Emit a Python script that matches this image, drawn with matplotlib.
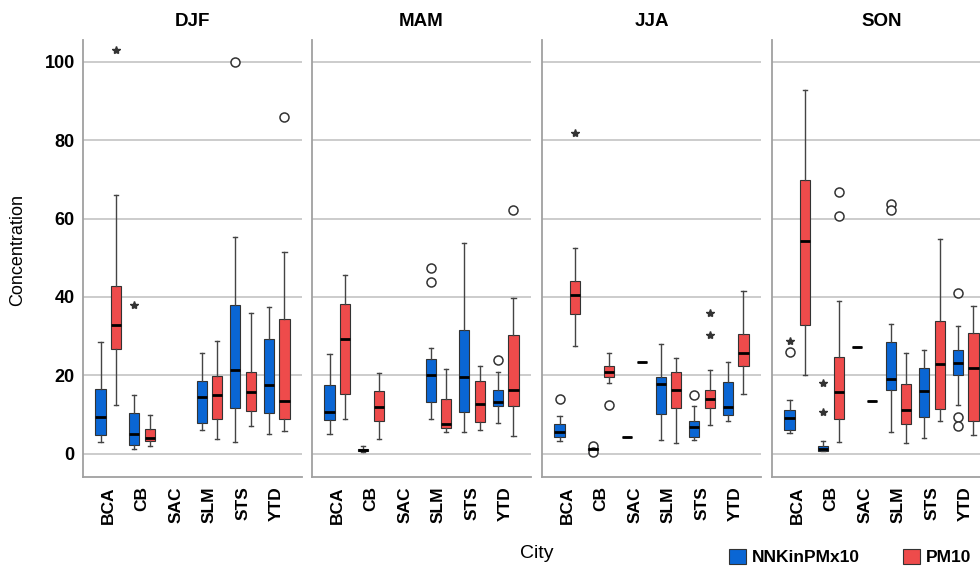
import matplotlib.pyplot as plt
from matplotlib.patches import Patch

plt.rcParams['font.family'] = ['Liberation Sans', 'DejaVu Sans']

seasons = ['DJF', 'MAM', 'JJA', 'SON']
cities = ['BCA', 'CB', 'SAC', 'SLM', 'STS', 'YTD']
series = ['NNKinPMx10', 'PM10']
colors = ['#0a66d4', '#ee4b4b']

# box stats, rows = season, cols = city (None = no data)
# NNKinPMx10
nnk_lo = [[3.1, 1.3, None, 6.0, 3.1, 5.1],
          [5.1, 0.6, None, 8.8, 5.5, 8.0],
          [3.3, 0.9, 4.4, 3.6, 3.6, 8.4],
          [5.4, 0.8, 27.3, 5.7, 4.0, 12.4]]
nnk_q1 = [[4.8, 2.3, None, 8.0, 11.6, 10.5],
          [8.7, 0.7, None, 13.3, 10.7, 12.3],
          [4.2, 1.0, 4.4, 10.3, 4.2, 9.9],
          [6.0, 0.8, 27.3, 16.2, 9.3, 20.0]]
nnk_med = [[9.3, 5.2, None, 14.5, 21.5, 17.5],
           [10.7, 0.9, None, 20.0, 19.6, 13.3],
           [5.5, 1.2, 4.4, 17.8, 6.8, 11.9],
           [9.2, 1.3, 27.3, 19.1, 16.0, 23.2]]
nnk_q3 = [[16.6, 10.5, None, 18.6, 37.9, 29.3],
          [17.6, 1.3, None, 24.2, 31.5, 16.2],
          [7.6, 1.4, 4.4, 19.7, 8.4, 18.3],
          [11.2, 2.0, 27.3, 28.5, 22.0, 26.5]]
nnk_hi = [[28.5, 15.0, None, 25.6, 55.3, 37.4],
          [25.4, 2.1, None, 27.0, 53.8, 20.8],
          [9.6, 1.6, 4.4, 28.0, 12.2, 23.5],
          [13.8, 3.3, 27.3, 33.0, 26.5, 32.7]]
nnk_out = [[[], [], [], [], [99.9], []],
           [[], [], [], [47.3, 43.8], [], [23.9]],
           [[13.9], [2.1, 0.5], [], [], [15.0], []],
           [[25.9], [], [], [63.8, 62.2], [], [41.1, 9.4, 7.2]]]
nnk_ext = [[[], [38.0], [], [], [], []],
           [[], [], [], [], [], []],
           [[], [], [], [], [], []],
           [[28.7], [18.0, 10.8], [], [], [], []]]

# PM10
pm_lo = [[12.4, 2.1, None, 3.7, 7.0, 5.8],
         [9.0, 3.7, None, 5.7, 6.0, 4.7],
         [27.5, 18.1, 23.4, 2.7, 7.3, 15.4],
         [20.2, 3.0, 13.5, 2.8, 8.4, 4.8]]
pm_q1 = [[26.8, 3.3, None, 8.8, 11.0, 9.0],
         [15.2, 8.3, None, 6.5, 8.2, 12.3],
         [35.6, 19.5, 23.4, 11.6, 11.8, 22.3],
         [32.9, 8.8, 13.5, 7.7, 11.4, 8.4]]
pm_med = [[32.8, 4.0, None, 15.0, 15.8, 13.4],
          [29.3, 12.0, None, 7.7, 12.8, 16.4],
          [40.4, 20.8, 23.4, 16.2, 14.1, 25.8],
          [54.3, 15.9, 13.5, 11.2, 22.9, 22.0]]
pm_q3 = [[42.9, 6.4, None, 19.8, 21.0, 34.4],
         [38.2, 16.1, None, 14.0, 18.6, 30.2],
         [44.0, 22.4, 23.4, 20.8, 16.4, 30.5],
         [69.7, 24.8, 13.5, 17.9, 34.0, 30.8]]
pm_hi = [[66.0, 9.9, None, 28.8, 36.0, 51.4],
         [45.7, 20.7, None, 21.7, 22.5, 39.8],
         [52.4, 25.6, 23.4, 24.4, 21.3, 41.5],
         [92.8, 39.0, 13.5, 25.6, 54.8, 37.8]]
pm_out = [[[], [], [], [], [], [86.0]],
          [[], [], [], [], [], [62.2]],
          [[], [12.4], [], [], [], []],
          [[], [66.7, 60.7], [], [], [], []]]
pm_ext = [[[102.9], [], [], [], [], []],
          [[], [], [], [], [], []],
          [[81.7], [], [], [], [36.0, 30.2], []],
          [[], [], [], [], [], []]]

stats_by_series = [
    (nnk_lo, nnk_q1, nnk_med, nnk_q3, nnk_hi, nnk_out, nnk_ext),
    (pm_lo, pm_q1, pm_med, pm_q3, pm_hi, pm_out, pm_ext),
]
offsets = [-0.23, 0.23]

W, H = 980, 570
fig = plt.figure(figsize=(W / 100, H / 100), dpi=100)

lefts = [83, 312, 542, 772]
ax_w, ax_top, ax_bot = 219, 40, 476.7

for si, season in enumerate(seasons):
    ax = fig.add_axes([lefts[si] / W, 1 - ax_bot / H, ax_w / W, (ax_bot - ax_top) / H])
    for k in range(2):
        lo, q1, med, q3, hi, out, ext = stats_by_series[k]
        for ci in range(len(cities)):
            if med[si][ci] is None:
                continue
            pos = ci + offsets[k]
            st = dict(med=med[si][ci], q1=q1[si][ci], q3=q3[si][ci],
                      whislo=lo[si][ci], whishi=hi[si][ci], fliers=[])
            ax.bxp([st], positions=[pos], widths=0.3, patch_artist=True,
                   showfliers=False, manage_ticks=False, capwidths=0.12,
                   boxprops=dict(facecolor=colors[k], edgecolor='#333333', linewidth=0.8),
                   medianprops=dict(color='black', linewidth=2),
                   whiskerprops=dict(color='#444444', linewidth=1),
                   capprops=dict(color='#444444', linewidth=1))
            if out[si][ci]:
                ax.plot([pos] * len(out[si][ci]), out[si][ci], 'o', ms=6.5,
                        mfc='white', mec='#333333', mew=1.1, ls='none')
            if ext[si][ci]:
                ax.plot([pos] * len(ext[si][ci]), ext[si][ci], '*', ms=6,
                        color='#333333', ls='none')

    ax.set_xlim(-0.75, 5.75)
    ax.set_ylim(-5.8, 105.5)
    ax.set_yticks([0, 20, 40, 60, 80, 100])
    ax.yaxis.grid(True, color='#c8c8c8', linewidth=1.3)
    ax.set_axisbelow(True)
    ax.set_xticks(range(len(cities)))
    ax.set_xticklabels(cities, rotation=90, fontsize=12.5, fontweight='bold')
    ax.tick_params(length=0, pad=7)
    if si == 0:
        ax.tick_params(axis='y', labelsize=13, pad=6)
        for lbl in ax.get_yticklabels():
            lbl.set_fontweight('bold')
    else:
        ax.tick_params(axis='y', labelleft=False)
    for s in ['top', 'right']:
        ax.spines[s].set_visible(False)
    for s in ['left', 'bottom']:
        ax.spines[s].set_color('#a0a0a0')
        ax.spines[s].set_linewidth(1.3)
    ax.text(0.5, 1 + 18 / (ax_bot - ax_top), season, transform=ax.transAxes,
            ha='center', va='center', fontsize=13.5, fontweight='bold')

fig.text(537 / W, 1 - 553 / H, 'City', ha='center', va='center', fontsize=14)
fig.text(18 / W, 1 - 250 / H, 'Concentration', ha='center', va='center',
         rotation=90, fontsize=13)

handles = [Patch(facecolor=colors[k], edgecolor='#333333', linewidth=0.8) for k in range(2)]
fig.legend(handles, series, loc='center', bbox_to_anchor=(850 / W, 1 - 557 / H),
           ncol=2, frameon=False, handlelength=1.0, handleheight=1.0,
           handletextpad=0.3, columnspacing=2.5,
           prop=dict(size=12.5, weight='bold'))

fig.savefig('out.png', dpi=100)
